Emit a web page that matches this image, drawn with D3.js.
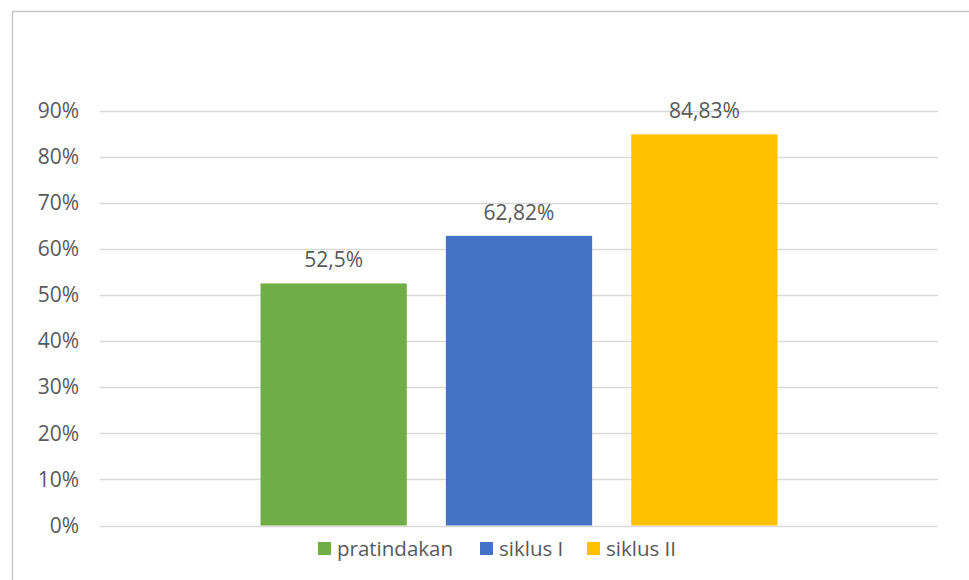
<!DOCTYPE html>
<html>
<head>
<meta charset="utf-8">
<script src="https://cdn.jsdelivr.net/npm/d3@7"></script>
<style>
  html, body { margin: 0; padding: 0; background: #fff; }
  svg { display: block; }
</style>
</head>
<body>
<svg id="chart" width="969" height="580"></svg>
<script>
// Chart data
const categories = [""];
const seriesNames = ["pratindakan", "siklus I", "siklus II"];
const seriesValues = [52.5, 62.82, 84.83];
const valueLabels = ["52,5%", "62,82%", "84,83%"];
const seriesColors = ["#70AD47", "#4472C4", "#FFC000"];
const yTicks = [0, 10, 20, 30, 40, 50, 60, 70, 80, 90];

const svg = d3.select("#chart");
const font = "'Open Sans', sans-serif";
const textColor = "#595959";

// Chart frame
svg.append("rect")
  .attr("x", 12.5).attr("y", 11.5)
  .attr("width", 980).attr("height", 600)
  .attr("fill", "#fff")
  .attr("stroke", "#C8C8C8")
  .attr("stroke-width", 1.5);

const plot = { left: 100, right: 938, top: 110.5, bottom: 525.5 };

const y = d3.scaleLinear()
  .domain([0, 90])
  .range([plot.bottom, plot.top]);

const x0 = d3.scaleBand()
  .domain(categories)
  .range([plot.left, plot.right])
  .paddingInner(0)
  .paddingOuter(0.3105);

const x1 = d3.scaleBand()
  .domain(seriesNames)
  .range([0, x0.bandwidth()])
  .paddingInner(0.211)
  .paddingOuter(0);

// Gridlines
svg.append("g")
  .selectAll("line")
  .data(yTicks)
  .join("line")
  .attr("x1", plot.left).attr("x2", plot.right)
  .attr("y1", d => Math.round(y(d)) + 0.5)
  .attr("y2", d => Math.round(y(d)) + 0.5)
  .attr("stroke", "#D9D9D9")
  .attr("stroke-width", 1.5);

// Y axis labels
const yAxis = d3.axisLeft(y)
  .tickValues(yTicks)
  .tickFormat(d => d + "%")
  .tickSize(0)
  .tickPadding(0);

const yAxisG = svg.append("g")
  .attr("transform", `translate(79,0)`)
  .call(yAxis);
yAxisG.select(".domain").remove();
yAxisG.selectAll("text")
  .attr("font-family", font)
  .attr("font-size", 21)
  .attr("fill", textColor);

// Bars
const group = svg.append("g")
  .attr("transform", `translate(${x0(categories[0])},0)`);

group.selectAll("rect")
  .data(seriesNames)
  .join("rect")
  .attr("x", d => x1(d))
  .attr("width", x1.bandwidth())
  .attr("y", (d, i) => y(seriesValues[i]))
  .attr("height", (d, i) => y(0) - y(seriesValues[i]))
  .attr("fill", (d, i) => seriesColors[i]);

// Value labels
group.selectAll("text.value")
  .data(seriesNames)
  .join("text")
  .attr("class", "value")
  .attr("x", d => x1(d) + x1.bandwidth() / 2)
  .attr("y", (d, i) => y(seriesValues[i]) - 16)
  .attr("text-anchor", "middle")
  .attr("font-family", font)
  .attr("font-size", 21)
  .attr("fill", textColor)
  .text((d, i) => valueLabels[i]);

// Legend
const legendX = [318, 480, 587];
const legend = svg.append("g");
const items = legend.selectAll("g")
  .data(seriesNames)
  .join("g")
  .attr("transform", (d, i) => `translate(${legendX[i]},542)`);
items.append("rect")
  .attr("width", 13).attr("height", 13)
  .attr("fill", (d, i) => seriesColors[i]);
items.append("text")
  .attr("x", 19).attr("y", 14)
  .attr("font-family", font)
  .attr("font-size", 20.5)
  .attr("fill", textColor)
  .text(d => d);
</script>
</body>
</html>
